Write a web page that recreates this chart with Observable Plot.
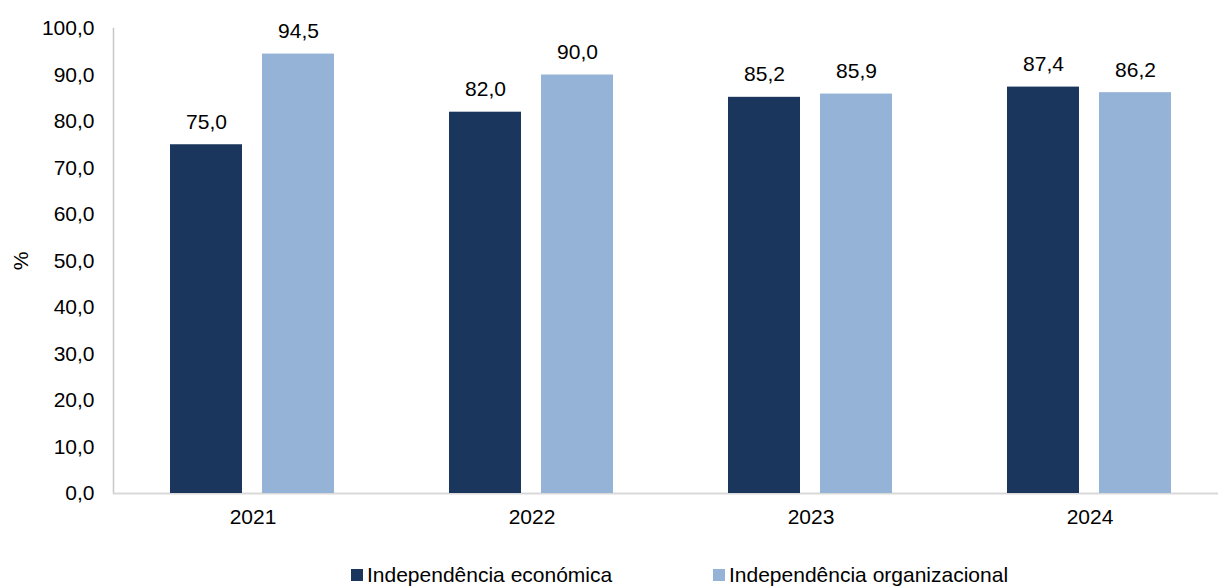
<!DOCTYPE html>
<html><head><meta charset="utf-8">
<script src="https://cdn.jsdelivr.net/npm/d3@7"></script>
<script src="https://cdn.jsdelivr.net/npm/@observablehq/plot@0.6"></script>
<style>
body{margin:0;background:#fff;font-family:"Liberation Sans",Arial,sans-serif;}
#wrap{width:1218px;}
#legend{position:relative;width:1218px;height:46px;}
.item{position:absolute;top:23px;height:24px;display:flex;align-items:center;font-size:21px;color:#000;white-space:nowrap;}
.sw{width:12px;height:12px;margin-right:4px;}
</style></head>
<body><div id="wrap"></div>
<script>
const years = ["2021", "2022", "2023", "2024"];
const seriesNames = ["Independência económica", "Independência organizacional"];
const economica = [75.0, 82.0, 85.2, 87.4];
const organizacional = [94.5, 90.0, 85.9, 86.2];
const yTicks = [0, 10, 20, 30, 40, 50, 60, 70, 80, 90, 100];
const colors = ["#1b365d", "#95b3d7"];

const fmt = v => v.toFixed(1).replace(".", ",");
const data = years.flatMap((yr, i) => [
  {year: yr, series: seriesNames[0], value: economica[i]},
  {year: yr, series: seriesNames[1], value: organizacional[i]}
]);

const chart = Plot.plot({
  width: 1218, height: 540,
  marginLeft: 112, marginRight: -12, marginTop: 28, marginBottom: 47,
  style: {fontFamily: '"Liberation Sans", Arial, sans-serif', fontSize: "21px", color: "#000", background: "#fff"},
  fx: {domain: years, padding: 0, label: null, axis: "bottom", tickSize: 0, tickPadding: 16},
  x: {domain: seriesNames, paddingInner: 0.215, paddingOuter: 0.61, axis: null},
  y: {domain: [0, 100], ticks: yTicks, tickFormat: fmt, tickSize: 0, tickPadding: 19,
      label: "%", labelAnchor: "center", labelArrow: "none", labelOffset: 100},
  color: {domain: seriesNames, range: colors},
  marks: [
    Plot.frame({anchor: "left", facetAnchor: "left", stroke: "#c8c8c8", strokeWidth: 1.5}),
    Plot.ruleY([0], {stroke: "#d9d9d9", strokeWidth: 2}),
    Plot.barY(data, {fx: "year", x: "series", y: "value", fill: "series"}),
    Plot.text(data, {fx: "year", x: "series", y: "value", text: d => fmt(d.value),
      lineAnchor: "bottom", dy: -16, fontSize: 21, fill: "#000"})
  ]
});
document.getElementById("wrap").appendChild(chart);

const legend = document.createElement("div");
legend.id = "legend";
const lefts = [351, 713];
seriesNames.forEach((s, i) => {
  const it = document.createElement("div");
  it.className = "item";
  it.style.left = lefts[i] + "px";
  const sw = document.createElement("div");
  sw.className = "sw";
  sw.style.background = colors[i];
  const t = document.createElement("span");
  t.textContent = s;
  it.appendChild(sw); it.appendChild(t);
  legend.appendChild(it);
});
document.getElementById("wrap").appendChild(legend);
</script></body></html>
